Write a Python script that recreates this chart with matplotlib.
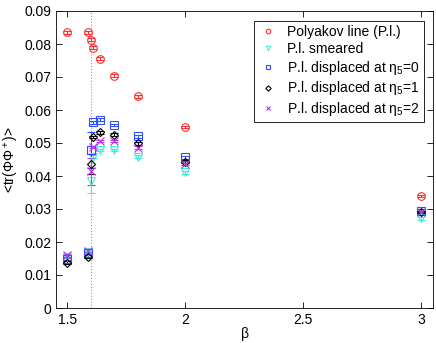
import numpy as np
import matplotlib.pyplot as plt

# beta values
beta = [1.5, 1.59, 1.6, 1.61, 1.64, 1.7, 1.8, 2.0, 3.0]

# Polyakov line
beta_pl = [1.5, 1.59, 1.6, 1.61, 1.64, 1.7, 1.8, 2.0, 3.0]
pl = [0.0835, 0.0835, 0.0813, 0.0789, 0.0756, 0.0704, 0.0641, 0.0548, 0.0339]
pl_err = [0.0004] * 9

smeared = [0.0156, 0.0170, 0.0386, 0.0459, 0.0479, 0.0479, 0.0459, 0.0411, 0.0272]
smeared_err = [0.0004, 0.0004, 0.0037, 0.0004, 0.0004, 0.0004, 0.0004, 0.0004, 0.0004]

disp0 = [0.0148, 0.0166, 0.0479, 0.0563, 0.0571, 0.0555, 0.0520, 0.0457, 0.0295]
disp0_err = [0.0004, 0.0004, 0.0055, 0.0004, 0.0004, 0.0004, 0.0004, 0.0004, 0.0004]

disp1 = [0.0137, 0.0156, 0.0436, 0.0518, 0.0532, 0.0525, 0.0499, 0.0443, 0.0291]
disp1_err = [0.0004, 0.0004, 0.0030, 0.0004, 0.0004, 0.0004, 0.0004, 0.0004, 0.0004]

disp2 = [0.0160, 0.0174, 0.0414, 0.0488, 0.0506, 0.0506, 0.0486, 0.0436, 0.0290]
disp2_err = [0.0004, 0.0004, 0.0040, 0.0004, 0.0004, 0.0004, 0.0004, 0.0004, 0.0004]

beta_c = 1.6

plt.rcParams['font.family'] = ['Liberation Sans', 'DejaVu Sans']
plt.rcParams['mathtext.fontset'] = 'custom'
plt.rcParams['mathtext.rm'] = 'Liberation Sans'
plt.rcParams['mathtext.it'] = 'Liberation Sans'

fig = plt.figure(figsize=(4.36, 3.43), dpi=100)
ax = fig.add_axes([56 / 436, 35 / 343, 377 / 436, 297 / 343])

ax.axvline(beta_c, color='#999999', linestyle=':', linewidth=0.8, zorder=0)

series = [
    (beta_pl, pl, pl_err, 'o', '#ff3030', 'Polyakov line (P.l.)'),
    (beta, smeared, smeared_err, 'v', '#40f0d8', 'P.l. smeared'),
    (beta, disp0, disp0_err, 's', '#3050ff', r'P.l. displaced at $\eta_5$=0'),
    (beta, disp1, disp1_err, 'D', '#000000', r'P.l. displaced at $\eta_5$=1'),
    (beta, disp2, disp2_err, 'x', '#c030f0', r'P.l. displaced at $\eta_5$=2'),
]

for x, y, e, m, c, lab in series:
    ms = 4.5 if m == 'D' else 5.5
    ax.errorbar(x, y, yerr=e, fmt=m, color=c, mfc='none', mec=c, ms=ms,
                mew=0.8, elinewidth=0.8, capsize=3, capthick=0.8, label=lab)

ax.set_xlim(1.453, 3.05)
ax.set_ylim(0, 0.09)
ax.set_xticks([1.5, 2, 2.5, 3])
ax.set_xticklabels(['1.5', '2', '2.5', '3'])
ax.set_yticks(np.arange(0, 0.091, 0.01))
ax.set_yticklabels(['0'] + ['%.2f' % v for v in np.arange(0.01, 0.091, 0.01)])
ax.tick_params(direction='in', top=True, right=True, labelsize=10, length=4, width=0.6)
for s in ax.spines.values():
    s.set_linewidth(0.6)

ax.set_xlabel(r'$\beta$', fontsize=10, labelpad=-1)
ax.set_ylabel(r'<tr($\Phi\Phi^+$)>', fontsize=10, labelpad=2)

handles, labels = ax.get_legend_handles_labels()
handles = [h[0] for h in handles]
leg = ax.legend(handles, labels, loc='upper right', fontsize=10, numpoints=1,
                fancybox=False, edgecolor='black', framealpha=1,
                handlelength=1.4, handletextpad=0.7, labelspacing=0.2,
                borderpad=0.3, markerscale=0.6, bbox_to_anchor=(0.995, 0.99))
leg.get_frame().set_linewidth(0.6)

fig.savefig('out.png', dpi=100)
